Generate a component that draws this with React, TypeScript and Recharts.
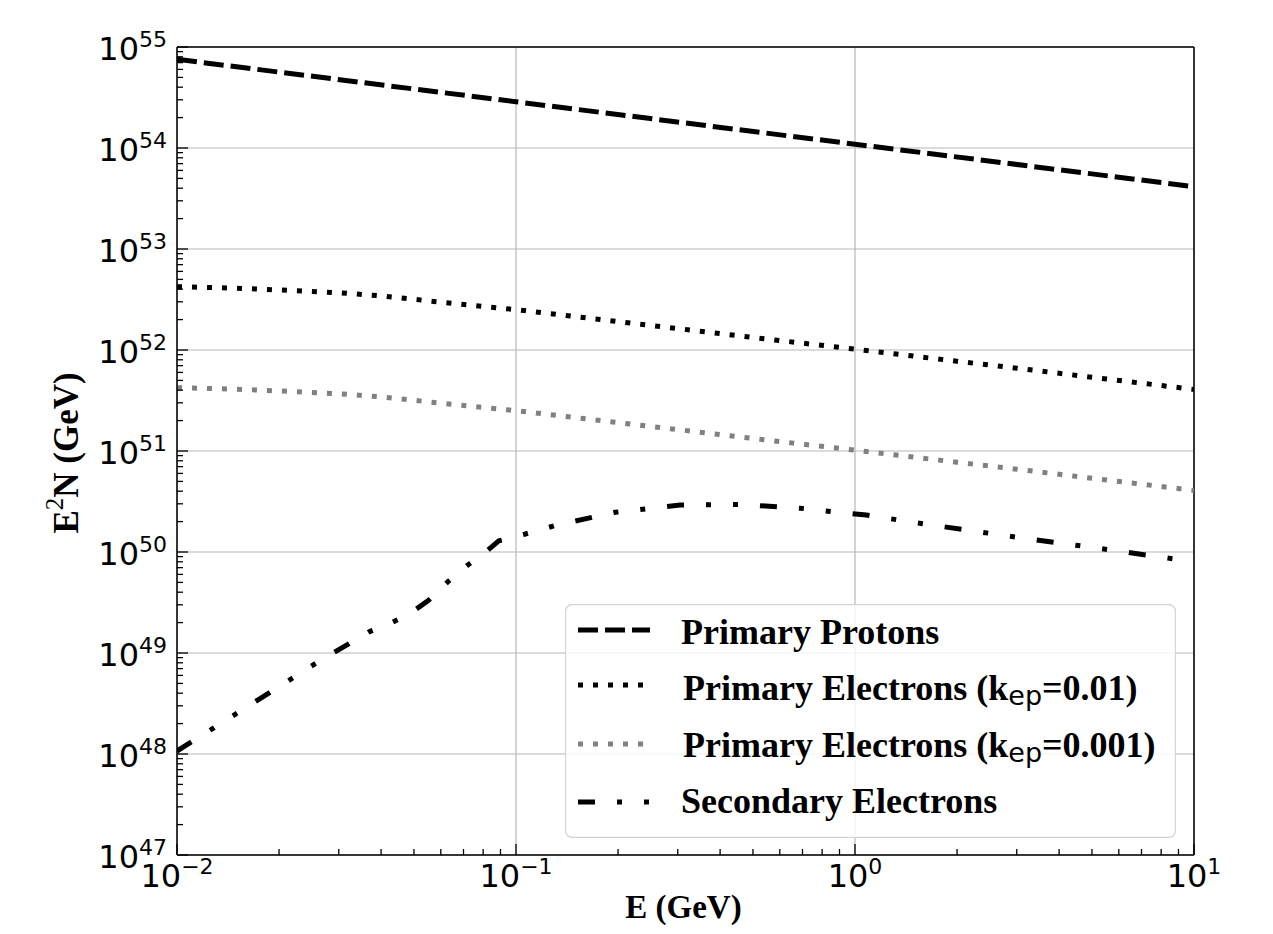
import React from 'react';
import { LineChart, Line, XAxis, YAxis, CartesianGrid, ReferenceLine, Legend, Label } from 'recharts';

// energies (GeV) and E^2 N values
const energyProtons = [0.01, 0.1, 1, 10];
const protons = [7.55e54, 2.87e54, 1.09e54, 4.14e53];

const energyPrimary = [0.01, 0.015, 0.02, 0.03, 0.04, 0.06, 0.1, 0.2, 0.31, 0.5, 1, 2, 3, 5, 10];
const electronsK01 = [4.24e52, 4.09e52, 3.93e52, 3.69e52, 3.43e52, 2.98e52, 2.51e52, 1.91e52, 1.61e52, 1.33e52, 1.02e52, 7.73e51, 6.61e51, 5.37e51, 4.07e51];
const electronsK001 = [4.24e51, 4.09e51, 3.93e51, 3.69e51, 3.43e51, 2.98e51, 2.51e51, 1.91e51, 1.61e51, 1.33e51, 1.02e51, 7.73e50, 6.61e50, 5.37e50, 4.07e50];

const energySecondary = [0.01, 0.0153, 0.0261, 0.037, 0.043, 0.048, 0.0551, 0.063, 0.072, 0.08, 0.089, 0.106, 0.132, 0.196, 0.305, 0.458, 0.69, 1.08, 1.63, 3.0, 5.65, 8.8];
const secondary = [1.07e48, 2.63e48, 8.2e48, 1.63e49, 2.0e49, 2.38e49, 3.3e49, 5.08e49, 7.41e49, 9.55e49, 1.29e50, 1.5e50, 1.85e50, 2.47e50, 2.92e50, 2.96e50, 2.71e50, 2.32e50, 1.88e50, 1.4e50, 1.05e50, 8.5e49];

// axis ticks
const xMajor = [0.01, 0.1, 1, 10];
const yMajor = [1e47, 1e48, 1e49, 1e50, 1e51, 1e52, 1e53, 1e54, 1e55];
const minorSteps = [2, 3, 4, 5, 6, 7, 8, 9];

const withMinor = (majors: number[]) => {
  const out: number[] = [];
  majors.forEach((m, i) => {
    out.push(m);
    if (i < majors.length - 1) minorSteps.forEach(s => out.push(m * s));
  });
  return out;
};
const xTicks = withMinor(xMajor);
const yTicks = withMinor(yMajor);

const toRows = (xs: number[], ys: number[]) => xs.map((e, i) => ({ e, v: ys[i] }));

const expOf = (v: number) => Math.round(Math.log10(v));
const isMajor = (v: number) => Math.abs(Math.log10(v) - expOf(v)) < 1e-6;
const expText = (n: number) => (n < 0 ? '\u2212' + Math.abs(n) : String(n));

const TICK_FONT = 'DejaVu Sans';
const SERIF = '"Liberation Serif", "Times New Roman", serif';

const XTick = (props: any) => {
  const { x, y, payload } = props;
  const v = payload.value;
  const major = isMajor(v);
  return (
    <g>
      <line x1={x} y1={y} x2={x} y2={y - (major ? 11 : 6)} stroke="#000" strokeWidth={1.3} />
      {major && (
        <text x={x} y={y + 32} textAnchor="middle" fontFamily={TICK_FONT} fontSize={32} fill="#000">
          10<tspan fontSize={22} dy={-13}>{expText(expOf(v))}</tspan>
        </text>
      )}
    </g>
  );
};

const YTick = (props: any) => {
  const { x, y, payload } = props;
  const v = payload.value;
  const major = isMajor(v);
  return (
    <g>
      <line x1={x} y1={y} x2={x + (major ? 11 : 6)} y2={y} stroke="#000" strokeWidth={1.3} />
      {major && (
        <text x={x - 10} y={y + 13} textAnchor="end" fontFamily={TICK_FONT} fontSize={32} fill="#000">
          10<tspan fontSize={22} dy={-13}>{expText(expOf(v))}</tspan>
        </text>
      )}
    </g>
  );
};

const XTitle = (props: any) => {
  const vb = props.viewBox || { x: 169, y: 847, width: 1017, height: 71 };
  return (
    <text x={vb.x + vb.width / 2 - 2} y={vb.y + 63} textAnchor="middle" fontFamily={SERIF} fontWeight="bold" fontSize={33} fill="#000">
      E (GeV)
    </text>
  );
};

const YTitle = (props: any) => {
  const vb = props.viewBox || { x: 0, y: 39, width: 169, height: 808 };
  const cx = vb.x + 70;
  const cy = vb.y + vb.height / 2 + 2;
  return (
    <text x={cx} y={cy} transform={`rotate(-90, ${cx}, ${cy})`} textAnchor="middle" fontFamily={SERIF} fontWeight="bold" fontSize={35} fill="#000">
      E<tspan fontWeight="normal" fontSize={25} dy={-15}>2</tspan>
      <tspan dy={15}>N (GeV)</tspan>
    </text>
  );
};

const legendRows = [
  { name: 'Primary Protons', color: '#000', dash: '20 7' },
  { name: 'Primary Electrons (k', sub: 'ep', tail: '=0.01)', color: '#000', dash: '5 10' },
  { name: 'Primary Electrons (k', sub: 'ep', tail: '=0.001)', color: '#808080', dash: '5 10' },
  { name: 'Secondary Electrons', color: '#000', dash: '17 22 5 22 5 22' },
];
const legendLineY = [26, 81, 140, 198];
const legendTextY = [40, 96, 153, 209];

const renderLegend = () => (
  <svg width={611} height={234} style={{ display: 'block' }}>
    <rect x={0.5} y={0.5} width={610} height={233} rx={7} fill="rgba(255,255,255,0.8)" stroke="#d4d4d4" strokeWidth={1.3} />
    {legendRows.map((r, i) => (
      <g key={r.name + i}>
        <line x1={13} x2={85} y1={legendLineY[i]} y2={legendLineY[i]} stroke={r.color} strokeWidth={5} strokeDasharray={r.dash} />
        <text x={i === 0 || i === 3 ? 116 : 118} y={legendTextY[i]} fontFamily={SERIF} fontWeight="bold" fontSize={36} fill="#000">
          {r.name}
          {r.sub && (
            <>
              <tspan fontFamily={TICK_FONT} fontWeight="normal" fontSize={27} dy={5}>{r.sub}</tspan>
              <tspan dy={-5}>{r.tail}</tspan>
            </>
          )}
        </text>
      </g>
    ))}
  </svg>
);

const App = () => (
  <LineChart width={1257} height={918} margin={{ top: 39, right: 71, bottom: 0, left: 0 }}>
    <CartesianGrid horizontalValues={yMajor} verticalValues={xMajor} stroke="#b8b8b8" strokeWidth={1.2} />
    <XAxis
      dataKey="e"
      type="number"
      scale="log"
      domain={[0.01, 10]}
      allowDataOverflow
      ticks={xTicks}
      interval={0}
      tickSize={0}
      tickMargin={0}
      tickLine={false}
      tick={(p: any) => <XTick {...p} />}
      axisLine={{ stroke: '#000', strokeWidth: 1.5 }}
      height={71}
    >
      <Label content={(p: any) => <XTitle {...p} />} />
    </XAxis>
    <YAxis
      type="number"
      scale="log"
      domain={[1e47, 1e55]}
      allowDataOverflow
      ticks={yTicks}
      interval={0}
      tickSize={0}
      tickMargin={0}
      tickLine={false}
      tick={(p: any) => <YTick {...p} />}
      axisLine={{ stroke: '#000', strokeWidth: 1.5 }}
      width={169}
    >
      <Label content={(p: any) => <YTitle {...p} />} />
    </YAxis>
    <ReferenceLine y={1e55} stroke="#000" strokeWidth={1.5} />
    <ReferenceLine x={10} stroke="#000" strokeWidth={1.5} />
    <Line data={toRows(energyProtons, protons)} dataKey="v" stroke="#000" strokeWidth={5} strokeDasharray="20 7" dot={false} isAnimationActive={false} name="Primary Protons" />
    <Line data={toRows(energyPrimary, electronsK01)} dataKey="v" stroke="#000" strokeWidth={5} strokeDasharray="5 10" dot={false} isAnimationActive={false} name="Primary Electrons (kep=0.01)" />
    <Line data={toRows(energyPrimary, electronsK001)} dataKey="v" stroke="#808080" strokeWidth={5} strokeDasharray="5 10" dot={false} isAnimationActive={false} name="Primary Electrons (kep=0.001)" />
    <Line data={toRows(energySecondary, secondary)} dataKey="v" stroke="#000" strokeWidth={5} strokeDasharray="17 22 5 22 5 22" dot={false} isAnimationActive={false} name="Secondary Electrons" />
    <Legend
      layout="vertical"
      align="center"
      verticalAlign="middle"
      content={renderLegend}
      wrapperStyle={{ left: 557, top: 596, width: 611, height: 234 }}
    />
  </LineChart>
);

export default App;
